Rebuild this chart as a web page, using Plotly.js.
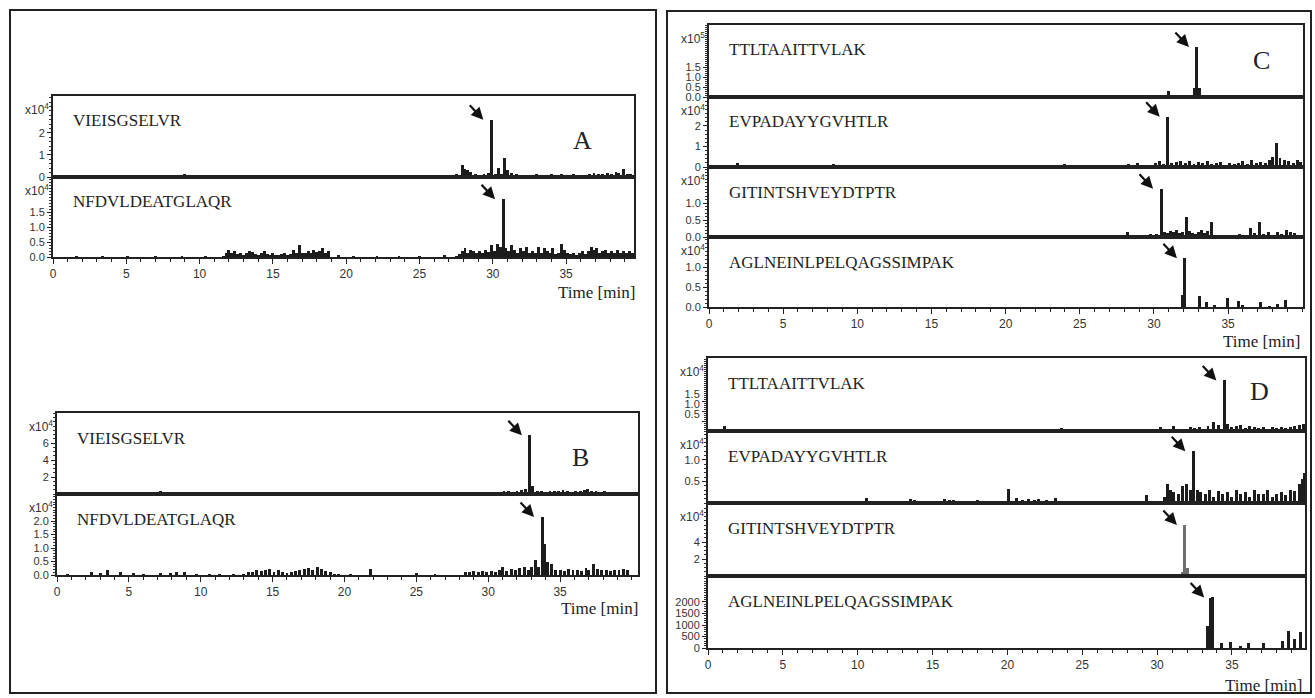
<!DOCTYPE html>
<html><head><meta charset="utf-8">
<script src="https://cdn.plot.ly/plotly-3.0.1.min.js"></script>
<style>html,body{margin:0;padding:0;background:#fff}#chart{width:1315px;height:698px}</style>
</head><body><div id="chart"></div>
<script>
// ---------------- DATA ----------------
const PEPTIDES_AB = ['VIEISGSELVR', 'NFDVLDEATGLAQR'];
const PEPTIDES_CD = ['TTLTAAITTVLAK', 'EVPADAYYGVHTLR', 'GITINTSHVEYDTPTR', 'AGLNEINLPELQAGSSIMPAK'];
const PANEL_LETTERS = ['A', 'B', 'C', 'D'];
const X_TITLE = 'Time [min]';
const X_TICKS = [0, 5, 10, 15, 20, 25, 30, 35];

// Panel A, VIEISGSELVR (x10^4)
const A1_t = [0.9,1.6,2.5,4.1,5.8,7.7,9.0,10.3,11.8,13.6,15.4,17.3,19.0,21.2,24.1,26.9,27.5,27.9,28.1,28.3,28.5,28.8,29.1,29.4,29.7,29.9,30.2,30.4,30.6,30.8,31.0,31.3,31.6,31.9,32.2,32.6,33.0,33.3,33.6,34.0,34.3,34.7,35.1,35.5,35.9,36.3,36.6,36.9,37.2,37.5,37.8,38.1,38.4,38.6,38.9,39.2,39.4];
const A1_v = [0.04,0.06,0.04,0.05,0.06,0.04,0.14,0.04,0.06,0.05,0.06,0.04,0.1,0.05,0.08,0.08,0.12,0.55,0.35,0.3,0.25,0.12,0.08,0.15,0.2,2.6,0.15,0.4,0.15,0.85,0.3,0.2,0.12,0.1,0.08,0.1,0.12,0.08,0.1,0.15,0.1,0.12,0.1,0.15,0.08,0.1,0.12,0.2,0.15,0.12,0.2,0.15,0.25,0.18,0.36,0.12,0.15];
// Panel A, NFDVLDEATGLAQR (x10^4)
const A2_t = [1.6,3.4,5.1,7.0,8.8,10.4,
  11.6,11.8,12.0,12.2,12.4,12.6,12.8,13.0,13.2,13.4,13.6,13.8,14.0,14.2,14.4,14.6,14.8,15.0,15.2,15.4,15.6,15.8,16.0,16.2,16.4,16.6,16.8,17.0,17.2,17.4,17.6,17.8,18.0,18.2,18.4,18.6,18.8,
  19.5,20.5,22.1,23.6,25.0,26.7,
  27.5,27.7,27.9,28.1,28.3,28.5,28.7,28.9,29.1,29.3,29.5,29.7,29.9,30.1,30.3,30.5,30.7,30.9,31.1,31.3,31.5,31.7,31.9,32.1,32.3,32.5,32.7,32.9,33.1,33.3,33.5,33.7,33.9,34.1,34.3,34.5,34.7,34.9,35.1,35.3,35.5,35.7,35.9,36.1,36.3,36.5,36.7,36.9,37.1,37.3,37.5,37.7,37.9,38.1,38.3,38.5,38.7,38.9,39.1,39.3,39.5];
const A2_v = [0.05,0.03,0.04,0.03,0.03,0.04,
  0.05,0.15,0.24,0.12,0.2,0.1,0.15,0.08,0.12,0.2,0.18,0.1,0.06,0.12,0.2,0.1,0.08,0.12,0.06,0.08,0.1,0.12,0.08,0.1,0.25,0.12,0.4,0.15,0.12,0.2,0.15,0.25,0.18,0.2,0.3,0.15,0.2,
  0.06,0.04,0.05,0.04,0.04,0.08,
  0.05,0.1,0.2,0.3,0.15,0.25,0.2,0.12,0.2,0.15,0.25,0.18,0.4,0.2,0.45,0.35,1.93,0.3,0.2,0.4,0.25,0.15,0.3,0.2,0.35,0.15,0.2,0.12,0.35,0.15,0.3,0.2,0.15,0.3,0.1,0.15,0.45,0.25,0.12,0.1,0.15,0.08,0.12,0.2,0.1,0.2,0.35,0.25,0.3,0.15,0.2,0.25,0.12,0.2,0.15,0.25,0.15,0.2,0.12,0.2,0.15];

// Panel B, VIEISGSELVR (x10^4)
const B1_t = [7.2,23.6,30.8,31.1,31.4,31.7,32.0,32.3,32.6,32.9,33.1,33.4,33.7,34.0,34.3,34.6,34.9,35.2,35.5,35.8,36.1,36.4,36.7,36.9,37.2,37.5,37.8,38.1,38.4,38.7,39.0,39.3,39.6];
const B1_v = [0.4,0.2,0.15,0.3,0.4,0.25,0.35,0.5,0.6,6.9,0.9,0.3,0.35,0.25,0.4,0.3,0.3,0.45,0.35,0.25,0.4,0.3,0.5,0.6,0.35,0.3,0.25,0.3,0.2,0.25,0.2,0.15,0.15];
// Panel B, NFDVLDEATGLAQR (x10^4)
const B2_t = [0.7,2.4,3.0,3.5,4.4,5.3,6.0,7.2,7.9,8.3,8.9,9.7,10.6,11.3,12.3,
  13.0,13.3,13.6,13.9,14.2,14.5,14.8,15.1,15.4,15.7,16.0,16.3,16.6,16.9,17.2,17.5,17.8,18.1,18.4,18.7,19.0,19.3,19.6,
  20.4,21.8,25.0,26.3,
  28.4,28.7,29.0,29.3,29.6,29.9,30.2,30.5,30.8,31.0,31.3,31.6,31.9,32.2,32.5,32.8,33.0,33.3,33.5,33.75,33.95,34.15,34.4,34.7,35.0,35.3,35.6,35.9,36.2,36.5,36.8,37.0,37.3,37.6,37.9,38.2,38.5,38.8,39.1,39.4,39.7];
const B2_v = [0.05,0.1,0.08,0.2,0.12,0.08,0.05,0.08,0.08,0.1,0.12,0.05,0.05,0.05,0.05,
  0.05,0.1,0.12,0.18,0.15,0.2,0.22,0.1,0.2,0.12,0.08,0.12,0.15,0.2,0.22,0.25,0.2,0.3,0.22,0.15,0.1,0.05,0.04,
  0.04,0.22,0.06,0.03,
  0.1,0.12,0.15,0.12,0.15,0.1,0.15,0.12,0.2,0.3,0.15,0.22,0.18,0.25,0.28,0.2,0.3,0.55,0.3,2.15,1.15,0.5,0.42,0.2,0.2,0.15,0.22,0.18,0.2,0.15,0.25,0.2,0.4,0.22,0.18,0.2,0.15,0.2,0.18,0.22,0.2];

// Panel C (x10^5 for the first, x10^4 for the others)
const C1_t = [28.4,31.0,32.75,32.9,33.05,33.6,35.1,36.6,38.4,39.7];
const C1_v = [0.04,0.3,0.45,2.5,0.45,0.05,0.03,0.03,0.03,0.04];
const C2_t = [1.95,2.4,6.4,8.4,9.0,13.0,13.2,13.4,15.4,17.0,17.3,17.6,17.9,19.8,20.9,24.0,26.2,
  28.0,28.3,28.6,28.9,29.2,29.5,29.8,30.1,30.4,30.65,30.93,31.2,31.5,31.8,32.1,32.4,32.7,33.0,33.3,33.6,33.9,34.2,34.5,34.8,35.1,35.4,35.7,36.0,36.3,36.6,36.9,37.2,37.5,37.8,38.0,38.28,38.5,38.8,39.1,39.4,39.7,39.9];
const C2_v = [0.2,0.1,0.05,0.15,0.08,0.1,0.08,0.1,0.05,0.1,0.12,0.08,0.1,0.08,0.05,0.15,0.05,
  0.1,0.15,0.12,0.2,0.1,0.12,0.1,0.2,0.3,0.15,2.45,0.2,0.25,0.3,0.2,0.3,0.15,0.25,0.2,0.3,0.15,0.2,0.25,0.1,0.2,0.15,0.2,0.3,0.15,0.35,0.2,0.25,0.2,0.35,0.5,1.15,0.45,0.35,0.3,0.2,0.35,0.25];
const C3_t = [4.9,28.2,29.3,29.8,30.2,30.48,30.7,30.9,31.1,31.3,31.5,31.7,31.9,32.2,32.4,32.6,32.8,33.0,33.2,33.4,33.6,33.9,34.2,34.8,35.3,35.8,36.1,36.5,36.8,37.1,37.4,37.7,38.0,38.3,38.6,38.95,39.2,39.5];
const C3_v = [0.03,0.15,0.05,0.1,0.08,1.42,0.15,0.12,0.18,0.15,0.2,0.12,0.15,0.59,0.18,0.12,0.1,0.15,0.2,0.12,0.18,0.44,0.05,0.06,0.04,0.08,0.05,0.27,0.12,0.44,0.1,0.15,0.06,0.15,0.1,0.22,0.15,0.12];
const C4_t = [31.9,32.09,33.1,33.56,34.1,34.95,35.7,36.0,37.2,37.8,38.3,38.9];
const C4_v = [0.3,1.22,0.27,0.12,0.04,0.22,0.15,0.06,0.12,0.03,0.08,0.17];

// Panel D (x10^4, last one in counts)
const D1_t = [1.13,10.3,15.5,23.6,30.2,31.1,31.6,31.9,32.2,32.5,32.8,33.1,33.4,33.8,34.1,34.49,34.7,35.0,35.3,35.6,35.9,36.2,36.5,36.8,37.1,37.4,37.7,38.0,38.3,38.6,38.9,39.2,39.5,39.8];
const D1_v = [0.23,0.05,0.05,0.15,0.2,0.25,0.1,0.12,0.18,0.15,0.2,0.12,0.25,0.45,0.3,2.53,0.35,0.2,0.25,0.3,0.15,0.25,0.2,0.15,0.2,0.12,0.18,0.15,0.2,0.15,0.22,0.25,0.3,0.35];
const D2_t = [2.3,8.7,10.6,13.5,13.8,15.8,16.1,16.4,17.0,18.0,19.2,20.1,20.6,21.0,21.4,21.8,22.1,22.6,23.2,23.8,24.2,25.1,25.6,29.3,
  30.5,30.7,30.9,31.1,31.4,31.7,31.97,32.2,32.42,32.7,32.9,33.2,33.5,33.8,34.1,34.4,34.7,35.0,35.3,35.6,35.9,36.2,36.5,36.8,37.1,37.4,37.7,38.0,38.3,38.6,38.9,39.2,39.5,39.7,39.85];
const D2_v = [0.04,0.03,0.12,0.1,0.08,0.1,0.06,0.08,0.05,0.06,0.05,0.33,0.12,0.08,0.1,0.08,0.1,0.06,0.12,0.05,0.05,0.05,0.03,0.19,
  0.15,0.45,0.3,0.25,0.2,0.4,0.45,0.3,1.2,0.3,0.25,0.2,0.3,0.15,0.28,0.2,0.25,0.15,0.3,0.2,0.25,0.15,0.3,0.2,0.22,0.3,0.15,0.2,0.25,0.18,0.3,0.28,0.45,0.55,0.7];
const D3_t = [30.2,30.8,31.3,31.7,31.86,32.05,32.4,32.9,33.4,33.9,34.5,35.2,36.0,36.8,37.2,37.5,37.8,38.2,39.0,39.3];
const D3_v = [0.1,0.05,0.08,0.5,6.0,1.0,0.1,0.08,0.1,0.12,0.1,0.08,0.06,0.1,0.15,0.12,0.15,0.08,0.15,0.1];
const D4_t = [33.38,33.55,33.68,34.3,34.9,35.6,36.1,37.1,38.4,38.8,39.2,39.6];
const D4_v = [970,2170,2200,220,260,90,220,220,300,750,400,700];

// ---------------- LAYOUT CONFIG ----------------
const W = 1315, H = 698;
const px = x => x / W;
const py = y => 1 - y / H;

const PANELS = [
  {x0: 53,  x1: 634,  xmax: 39.63, letter: [582, 140],  time: [637, 293]},
  {x0: 57,  x1: 638,  xmax: 40.42, letter: [580, 457],  time: [640, 608]},
  {x0: 709, x1: 1303, xmax: 40.05, letter: [1261, 60],  time: [1302, 341]},
  {x0: 708, x1: 1305, xmax: 39.88, letter: [1259, 391], time: [1304, 685]}
];

const SUBS = [
  {p:0, t:A1_t, v:A1_v, name:PEPTIDES_AB[0], top:96,  bot:177, ymax:3.68, tv:[0,1,2], tt:['0','1','2'], md:0.2, exp:'4'},
  {p:0, t:A2_t, v:A2_v, name:PEPTIDES_AB[1], top:177, bot:257, ymax:2.67, tv:[0,0.5,1,1.5], tt:['0.0','0.5','1.0','1.5'], md:0.1, exp:'4'},
  {p:1, t:B1_t, v:B1_v, name:PEPTIDES_AB[0], top:413, bot:494, ymax:9.53, tv:[2,4,6], tt:['2','4','6'], md:0.5, exp:'4'},
  {p:1, t:B2_t, v:B2_v, name:PEPTIDES_AB[1], top:494, bot:575, ymax:3.0, tv:[0,0.5,1,1.5,2], tt:['0.0','0.5','1.0','1.5','2.0'], md:0.1, exp:'4'},
  {p:2, t:C1_t, v:C1_v, name:PEPTIDES_CD[0], top:25,  bot:97,  ymax:3.6, tv:[0,0.5,1,1.5], tt:['0.0','0.5','1.0','1.5'], md:0.1, exp:'5'},
  {p:2, t:C2_t, v:C2_v, name:PEPTIDES_CD[1], top:97,  bot:167, ymax:3.41, tv:[0,1,2], tt:['0','1','2'], md:0.2, exp:'4'},
  {p:2, t:C3_t, v:C3_v, name:PEPTIDES_CD[2], top:167, bot:237, ymax:2.06, tv:[0,0.5,1], tt:['0.0','0.5','1.0'], md:0.1, exp:'4'},
  {p:2, t:C4_t, v:C4_v, name:PEPTIDES_CD[3], top:237, bot:307, ymax:1.75, tv:[0,0.5,1], tt:['0.0','0.5','1.0'], md:0.1, exp:'4'},
  {p:3, t:D1_t, v:D1_v, name:PEPTIDES_CD[0], top:358, bot:431, ymax:3.65, tv:[0.5,1,1.5], tt:['0.5','1.0','1.5'], md:0.1, exp:'4', shift:-7},
  {p:3, t:D2_t, v:D2_v, name:PEPTIDES_CD[1], top:431, bot:503, ymax:1.67, tv:[0.5,1], tt:['0.5','1.0'], md:0.1, exp:'4'},
  {p:3, t:D3_t, v:D3_v, name:PEPTIDES_CD[2], top:503, bot:576, ymax:8.59, tv:[2,4], tt:['2','4'], md:0.5, exp:'4', color:'#6e6e6e'},
  {p:3, t:D4_t, v:D4_v, name:PEPTIDES_CD[3], top:576, bot:648, ymax:3130, tv:[0,500,1000,1500,2000], tt:['0','500','1000','1500','2000'], md:100, exp:null}
];

const SANS = 'Liberation Sans, Arial, sans-serif';
const SERIF = 'Liberation Serif, Times New Roman, serif';
const INK = '#1c1c1c';

const traces = [];
const layout = {
  width: W, height: H,
  margin: {l: 0, r: 0, t: 0, b: 0},
  paper_bgcolor: '#fff', plot_bgcolor: 'rgba(0,0,0,0)',
  showlegend: false,
  bargap: 0,
  annotations: [],
  shapes: []
};

SUBS.forEach((s, i) => {
  const n = i + 1, sfx = n === 1 ? '' : String(n);
  const P = PANELS[s.p];
  const isBottom = (i === SUBS.length - 1) || SUBS[i + 1].p !== s.p;
  traces.push({
    type: 'bar', x: s.t, y: s.v, width: 0.2,
    xaxis: 'x' + sfx, yaxis: 'y' + sfx,
    marker: {color: s.color || INK, line: {width: 0}},
    hoverinfo: 'skip'
  });
  layout['xaxis' + sfx] = {
    domain: [px(P.x0), px(P.x1)], range: [0, P.xmax], anchor: 'y' + sfx,
    showline: true, mirror: true, linecolor: '#222', linewidth: 2,
    showgrid: false, zeroline: false, fixedrange: true,
    tickmode: 'array', tickvals: X_TICKS, ticktext: X_TICKS.map(String),
    ticks: isBottom ? 'outside' : '', ticklen: 5, tickwidth: 1, tickcolor: '#222',
    showticklabels: isBottom,
    tickfont: {family: SANS, size: 12, color: '#333'},
    minor: isBottom ? {tickmode: 'linear', tick0: 0, dtick: 1, ticks: 'outside', ticklen: 3, tickcolor: '#222'} : {ticks: ''}
  };
  layout['yaxis' + sfx] = {
    domain: [py(s.bot), py(s.top)], range: [0, s.ymax], anchor: 'x' + sfx,
    showline: true, mirror: true, linecolor: '#222', linewidth: 2,
    showgrid: false, zeroline: false, fixedrange: true,
    tickmode: 'array', tickvals: s.tv, ticktext: s.tt,
    ticks: 'outside', ticklen: 4, tickwidth: 1, tickcolor: '#222',
    ticklabelshift: s.shift || 0,
    tickfont: {family: SANS, size: 11, color: '#333'},
    minor: {tickmode: 'linear', tick0: 0, dtick: s.md, ticks: 'outside', ticklen: 2, tickcolor: '#333'}
  };
  // peptide label
  layout.annotations.push({
    xref: 'paper', yref: 'paper', x: px(P.x0 + 18), y: py(s.top + 25),
    xanchor: 'left', yanchor: 'middle', showarrow: false,
    text: s.name, font: {family: SERIF, size: 17, color: '#222'}
  });
  // exponent label
  if (s.exp) {
    layout.annotations.push({
      xref: 'paper', yref: 'paper', x: px(P.x0 - 2), y: py(s.top + 13),
      xanchor: 'right', yanchor: 'middle', showarrow: false,
      text: 'x10<sup>' + s.exp + '</sup>', font: {family: SANS, size: 12, color: '#333'}
    });
  }
  // arrow pointing to the main peak (taken from the data)
  let k = 0;
  s.v.forEach((val, j) => { if (val > s.v[k]) k = j; });
  layout.annotations.push({
    xref: 'x' + sfx, yref: 'y' + sfx, x: s.t[k], y: s.v[k],
    text: '', showarrow: true, xshift: -8, yshift: 0,
    ax: -15, ay: -16, arrowhead: 2, arrowsize: 1.1, arrowwidth: 2.2,
    arrowcolor: '#111', standoff: 0
  });
});

PANELS.forEach((P, i) => {
  layout.annotations.push({
    xref: 'paper', yref: 'paper', x: px(P.letter[0]), y: py(P.letter[1]),
    xanchor: 'center', yanchor: 'middle', showarrow: false,
    text: PANEL_LETTERS[i], font: {family: SERIF, size: 26, color: '#222'}
  });
  layout.annotations.push({
    xref: 'paper', yref: 'paper', x: px(P.time[0]), y: py(P.time[1]),
    xanchor: 'right', yanchor: 'middle', showarrow: false,
    text: X_TITLE, font: {family: SERIF, size: 17, color: '#222'}
  });
});

// outer frames
layout.shapes.push({type: 'rect', xref: 'paper', yref: 'paper', x0: px(10), x1: px(656), y0: py(693), y1: py(10), line: {color: '#222', width: 2}});
layout.shapes.push({type: 'rect', xref: 'paper', yref: 'paper', x0: px(667), x1: px(1311), y0: py(693), y1: py(11), line: {color: '#222', width: 2}});

Plotly.newPlot('chart', traces, layout, {displayModeBar: false, staticPlot: true});
</script>
</body></html>
